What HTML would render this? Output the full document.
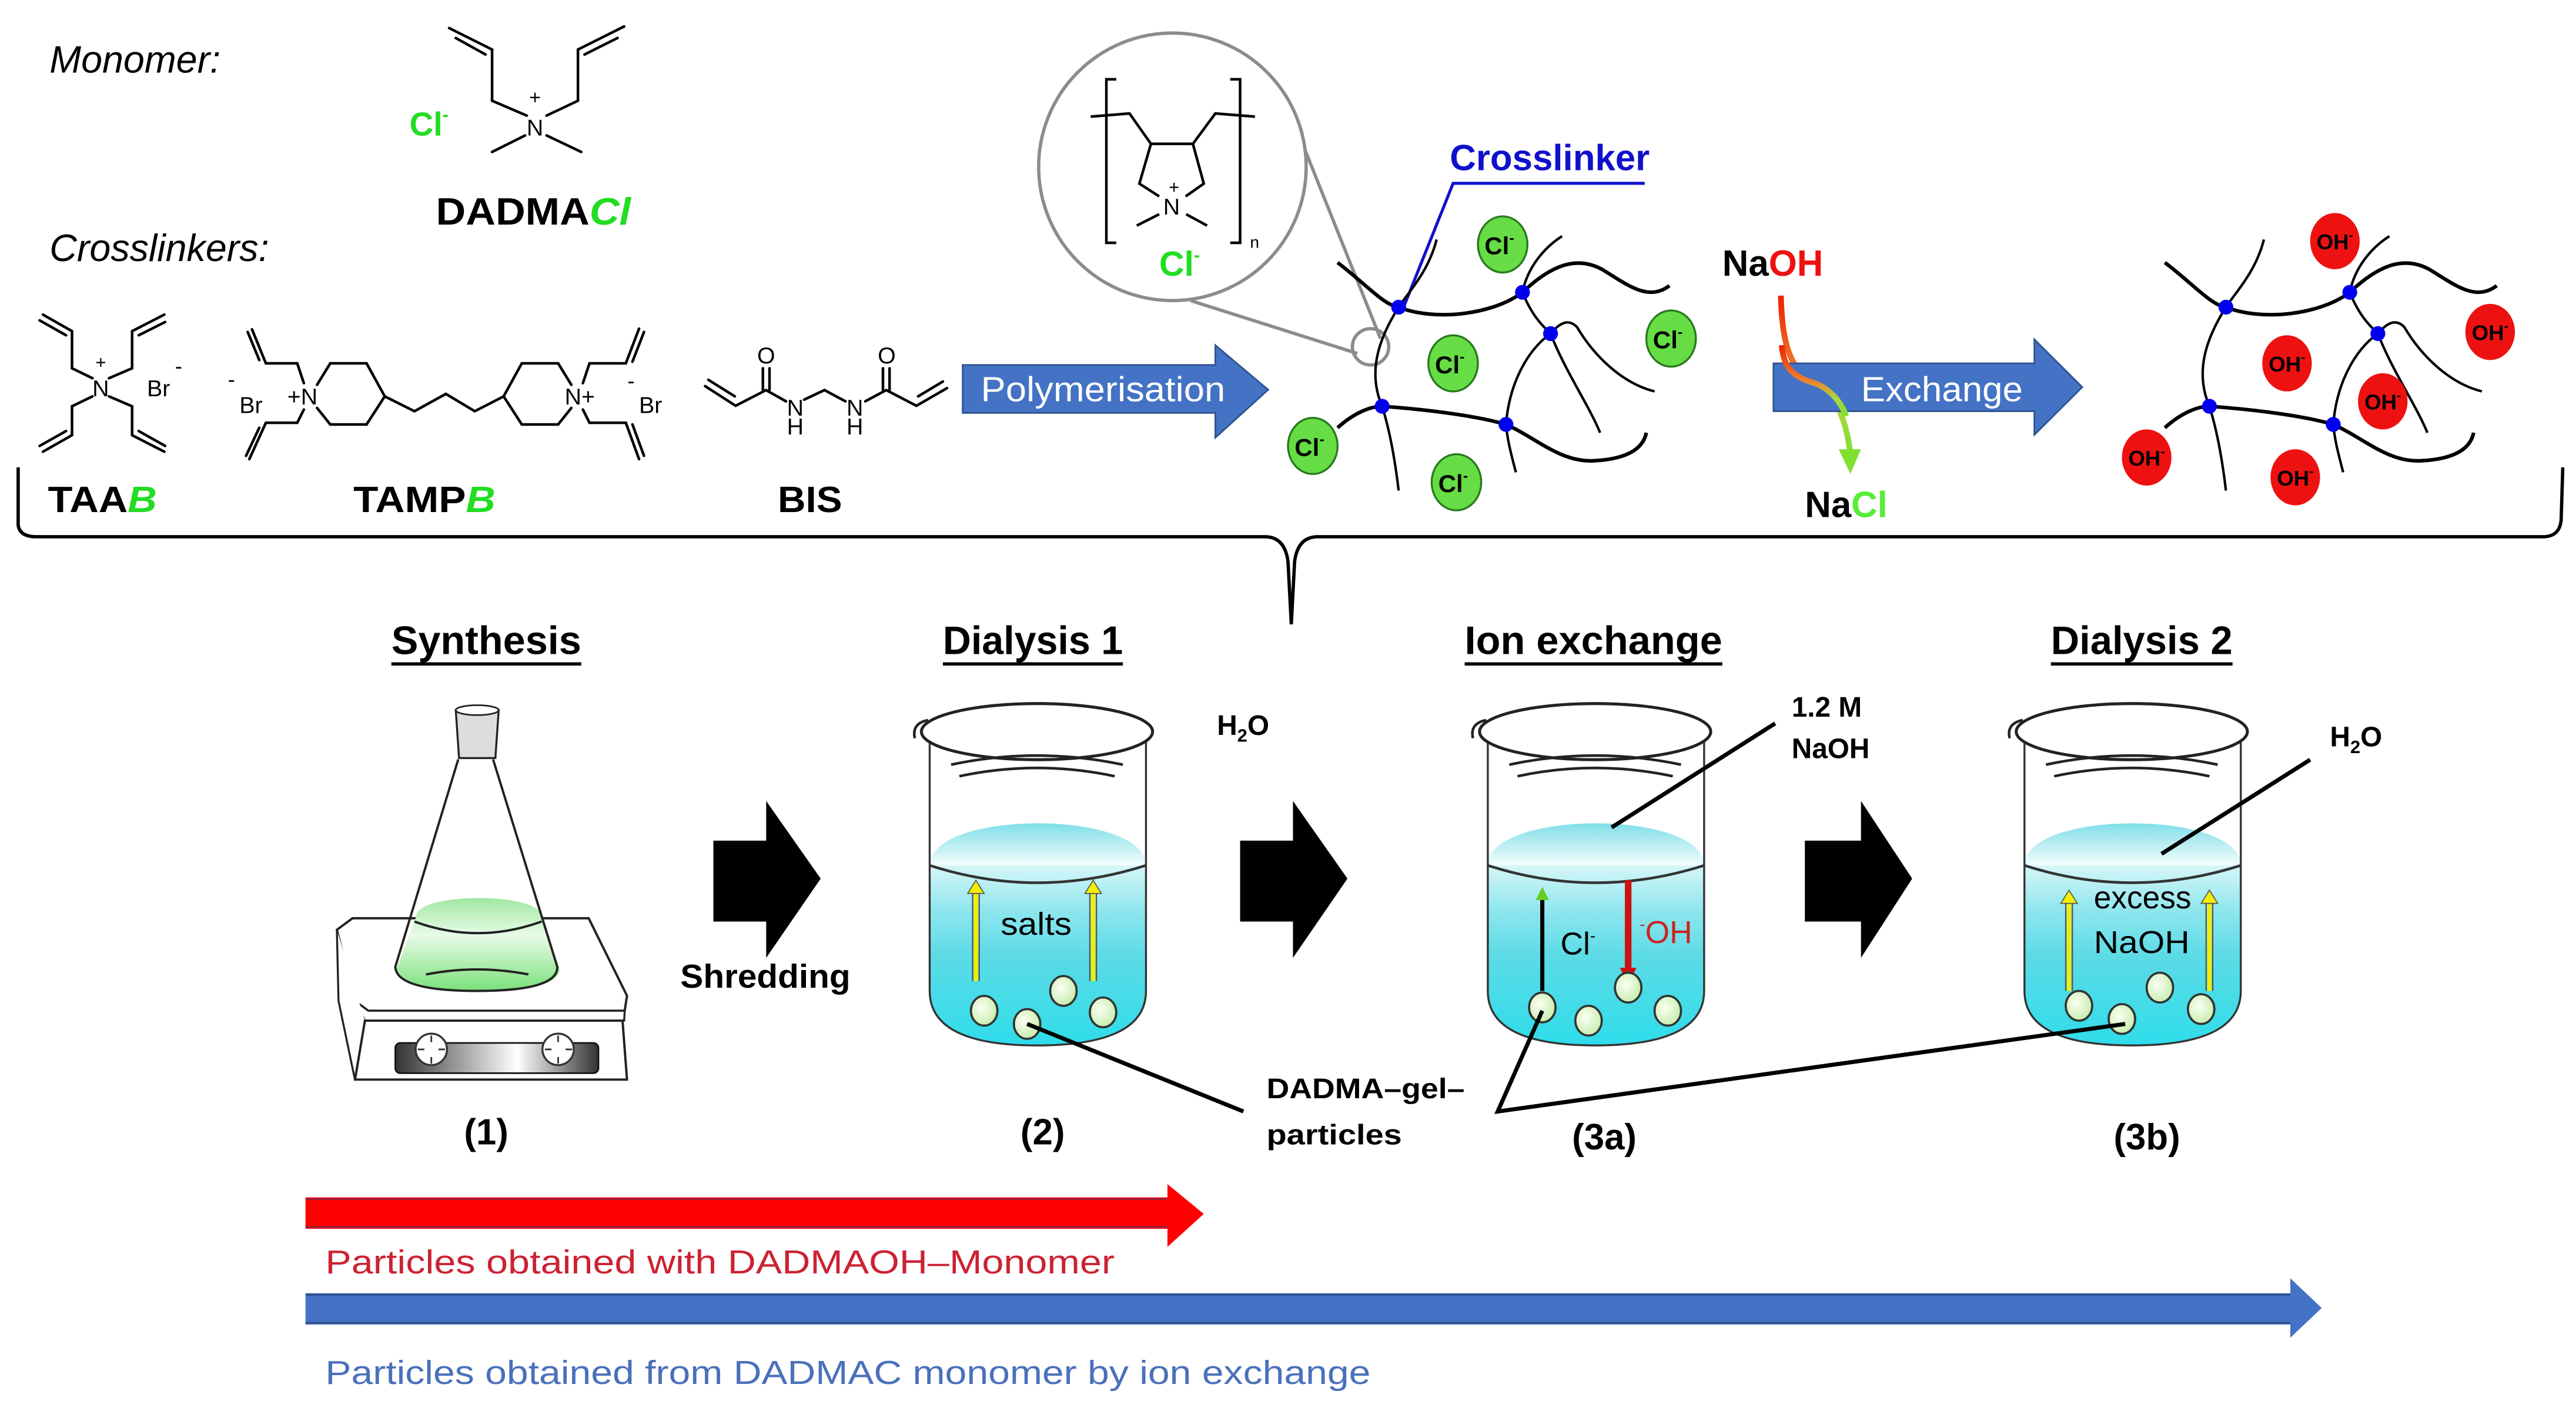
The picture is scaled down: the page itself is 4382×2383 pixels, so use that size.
<!DOCTYPE html>
<html><head><meta charset="utf-8"><style>html,body{margin:0;padding:0;background:#fff}svg{display:block}</style></head>
<body>
<svg width="4382" height="2383" viewBox="0 0 1560 848.3" preserveAspectRatio="none" xmlns="http://www.w3.org/2000/svg" font-family="Liberation Sans, sans-serif">
<defs>
<linearGradient id="water" x1="0" y1="0" x2="0" y2="1">
<stop offset="0" stop-color="#d6f6f8"/><stop offset="0.25" stop-color="#8fe6ee"/><stop offset="0.5" stop-color="#5cdbe6"/><stop offset="1" stop-color="#2fdcea"/>
</linearGradient>
<linearGradient id="dome" x1="0" y1="0" x2="0" y2="1">
<stop offset="0" stop-color="#7fdfe8"/><stop offset="1" stop-color="#f4fdfd"/>
</linearGradient>
<linearGradient id="green" x1="0" y1="0" x2="0" y2="1">
<stop offset="0" stop-color="#9fe89f"/><stop offset="0.4" stop-color="#e8fbe8"/><stop offset="1" stop-color="#7be07b"/>
</linearGradient>
<linearGradient id="bar" x1="0" y1="0" x2="1" y2="0">
<stop offset="0" stop-color="#333"/><stop offset="0.6" stop-color="#fff"/><stop offset="1" stop-color="#333"/>
</linearGradient>
<linearGradient id="na" x1="0" y1="0" x2="0" y2="1">
<stop offset="0" stop-color="#ee2200"/><stop offset="0.5" stop-color="#f08030"/><stop offset="0.75" stop-color="#a8d840"/><stop offset="1" stop-color="#80e030"/>
</linearGradient>
<radialGradient id="part" cx="0.4" cy="0.4" r="0.6"><stop offset="0" stop-color="#fbfff3"/><stop offset="1" stop-color="#c8eeb0"/></radialGradient>
<g id="beaker">
<path d="M-63,524 C-63,490 68,490 68,524 Z" fill="url(#dome)"/>
<path d="M-63,524 L-63,600 Q-63,633 2,633 Q68,633 68,600 L68,524 Z" fill="url(#water)"/>
<path d="M-63,524 Q2,545 68,524" fill="none" stroke="#333" stroke-width="1.6"/>
<path d="M-63,447 L-63,600 Q-63,633 2,633 Q68,633 68,600 L68,447" fill="none" stroke="#333" stroke-width="1.2"/>
<ellipse cx="2" cy="443" rx="70" ry="17" fill="#fff" stroke="#222" stroke-width="1.8"/>
<path d="M-72,447 Q-74,438 -64,436" fill="none" stroke="#222" stroke-width="1.6"/>
<path d="M-50,463 Q2,452 54,463" fill="none" stroke="#222" stroke-width="1.6"/>
<path d="M-45,470 Q2,460 49,470" fill="none" stroke="#222" stroke-width="1.6"/>
</g>
<g id="net">
<g fill="none" stroke="#000" stroke-width="2.2">
<path d="M810,159 C825,170 838,185 847,186 C870,195 905,190 922,177 C940,160 955,155 970,163 C985,172 998,183 1011,173"/>
<path d="M810,259 C820,250 830,246 837,246 C865,248 895,252 912,257 C930,265 945,280 965,279 C985,278 995,272 997,262"/>
</g>
<g fill="none" stroke="#000" stroke-width="1.5">
<path d="M870,145 C865,165 852,178 847,186 C835,205 828,225 837,246 C842,262 845,280 847,297"/>
<path d="M946,143 C935,150 925,162 922,177 C928,192 935,198 939,202"/>
<path d="M939,202 C925,212 914,232 912,257 C913,268 916,278 918,286"/>
<path d="M939,202 C945,195 950,193 955,198 C965,215 982,232 1002,237"/>
<path d="M939,202 C948,225 962,245 969,262"/>
</g>
<g fill="#0000ee"><circle cx="847" cy="186" r="4.5"/><circle cx="922" cy="177" r="4.5"/><circle cx="939" cy="202" r="4.5"/><circle cx="837" cy="246" r="4.5"/><circle cx="912" cy="257" r="4.5"/></g>
</g>
</defs>

<!-- Top texts -->
<text x="30" y="44" font-size="23" font-style="italic">Monomer:</text>
<text x="30" y="158" font-size="23" font-style="italic">Crosslinkers:</text>

<g fill="none" stroke="#000" stroke-width="1.6" stroke-linecap="round">
<!-- DADMA -->
<path d="M319,70 L298,61 L298,30 L272,17 M294,33 L276,23"/>
<path d="M331,70 L350,61 L350,30 L378,16 M354,33 L374,23"/>
<path d="M318,82 L298,92 M331,82 L352,92"/>
<!-- TAAB -->
<path d="M56,229 L43.6,223 L43.6,200.5 L26,190.5 M40,203 L24,194"/>
<path d="M66,229 L80,223 L80,200.5 L99.5,190.5 M84,203 L100,195"/>
<path d="M56,240 L43.6,246 L43.6,263.5 L26,273.5 M40,261 L24,270"/>
<path d="M66,240 L80,246 L80,263.5 L99.5,273.5 M84,261 L100,270"/>
<!-- TAMPB -->
<path d="M192,233 L200,220 L222,220 L233,240 L222,257 L200,257 L192,247"/>
<path d="M233,240 L251,249 L270,238.5 L287.5,249 L305,240"/>
<path d="M305,240 L316,220 L338,220 L346,233 M346,247 L338,257 L316,257 L305,240"/>
<path d="M184,232 L180,220 L161,220 L152.6,199.4 M157,218 L150,201"/>
<path d="M184,248 L180,256 L161,256 L151,278 M157,259 L149,276"/>
<path d="M353,232 L357,220 L379,220 L387,199 M383,219 L390,201"/>
<path d="M353,248 L357,256 L379,256 L387,278 M383,257 L390,276"/>
<!-- BIS -->
<path d="M427,233.8 L445.5,245.7 L463.9,236.2 L476,243 M429,230 L445,240"/>
<path d="M462,236 L462,223 M466,236 L466,223"/>
<path d="M487,242 L499.3,236.2 L512,243"/>
<path d="M524,243 L536.7,236.2 L555,245.7 L573.5,235 M556,240 L571,231"/>
<path d="M534.7,236 L534.7,223 M538.7,236 L538.7,223"/>
</g>
<g font-size="14">
<text x="324" y="82" text-anchor="middle">N</text><text x="324" y="63" text-anchor="middle" font-size="12">+</text>
<text x="248" y="82" fill="#22dd22" font-size="20" font-weight="bold">Cl<tspan font-size="11" dy="-9">-</tspan></text>
<text x="61" y="240" text-anchor="middle">N</text><text x="61" y="223" text-anchor="middle" font-size="11">+</text>
<text x="89" y="240">Br</text><text x="106" y="226" font-size="13">-</text>
<text x="174" y="245">+N</text><text x="342" y="245">N+</text>
<text x="145" y="250">Br</text><text x="138" y="234" font-size="13">-</text>
<text x="387" y="250">Br</text><text x="380" y="235" font-size="13">-</text>
<text x="464" y="220" text-anchor="middle">O</text><text x="537" y="220" text-anchor="middle">O</text>
<text x="481.6" y="251.6" text-anchor="middle">N</text><text x="481.6" y="263" text-anchor="middle">H</text>
<text x="517.7" y="251.6" text-anchor="middle">N</text><text x="517.7" y="263" text-anchor="middle">H</text>
</g>
<text x="264" y="136" font-size="23" font-weight="bold" textLength="118" lengthAdjust="spacingAndGlyphs">DADMA<tspan fill="#22dd22" font-style="italic">Cl</tspan></text>
<text x="29" y="310" font-size="22" font-weight="bold" textLength="66" lengthAdjust="spacingAndGlyphs">TAA<tspan fill="#22dd22" font-style="italic">B</tspan></text>
<text x="214" y="310" font-size="22" font-weight="bold" textLength="86" lengthAdjust="spacingAndGlyphs">TAMP<tspan fill="#22dd22" font-style="italic">B</tspan></text>
<text x="471" y="310" font-size="22" font-weight="bold" textLength="39" lengthAdjust="spacingAndGlyphs">BIS</text>

<!-- Polymerisation arrow -->
<path d="M583,221 L736,221 L736,209 L768,236 L736,265 L736,250 L583,250 Z" fill="#4472c4" stroke="#2f528f" stroke-width="1"/>
<text x="594" y="243" font-size="21" fill="#fff" textLength="148" lengthAdjust="spacingAndGlyphs">Polymerisation</text>

<!-- zoom circle -->
<g fill="none" stroke="#8c8c8c" stroke-width="2">
<ellipse cx="710" cy="101" rx="81" ry="81"/>
<path d="M790,90 L836,205 M721,182 L822,214"/>
<circle cx="830" cy="210" r="11"/>
</g>
<g fill="none" stroke="#000" stroke-width="1.6">
<path d="M676,48 L670,48 L670,147 L676,147 M745,48 L751,48 L751,147 L745,147"/>
<path d="M660.5,70.6 L684,68.7 L697,87.1 L722.4,87.1 L736,68.7 L760,70.6"/>
<path d="M697,87.1 L690,111.2 L702,118.9 M722.4,87.1 L729,111.2 L718,118.9"/>
<path d="M702,129.7 L688.4,136.6 M718.3,129.7 L731,136.6"/>
</g>
<text x="709.5" y="130" font-size="14" text-anchor="middle">N</text>
<text x="711" y="117" font-size="11" text-anchor="middle">+</text>
<text x="757" y="150" font-size="10">n</text>
<text x="702" y="167" font-size="21" font-weight="bold" fill="#22dd22">Cl<tspan font-size="11" dy="-9">-</tspan></text>

<!-- crosslinker label -->
<text x="878" y="103" font-size="22" font-weight="bold" fill="#1010cc">Crosslinker</text>
<path d="M996,111 L880,111 L850,186" fill="none" stroke="#1010cc" stroke-width="1.8"/>

<use href="#net"/>
<g font-size="15" font-weight="bold" text-anchor="middle">
<g fill="#66dd44" stroke="#2a7a20" stroke-width="1.2">
<ellipse cx="910" cy="148" rx="15" ry="17"/><ellipse cx="880" cy="220" rx="15" ry="17"/><ellipse cx="1012" cy="205" rx="15" ry="17"/><ellipse cx="795" cy="270" rx="15" ry="17"/><ellipse cx="882" cy="292" rx="15" ry="17"/>
</g>
<text x="908" y="154">Cl<tspan font-size="9" dy="-7">-</tspan></text>
<text x="878" y="226">Cl<tspan font-size="9" dy="-7">-</tspan></text>
<text x="1010" y="211">Cl<tspan font-size="9" dy="-7">-</tspan></text>
<text x="793" y="276">Cl<tspan font-size="9" dy="-7">-</tspan></text>
<text x="880" y="298">Cl<tspan font-size="9" dy="-7">-</tspan></text>
</g>

<!-- exchange -->
<text x="1043" y="167" font-size="22" font-weight="bold">Na<tspan fill="#ee1111">OH</tspan></text>
<path d="M1078.5,179 C1079,205 1083,224 1099,232 C1112,238 1118,255 1120.5,274" fill="none" stroke="url(#na)" stroke-width="3.5"/>
<path d="M1113.5,272 L1127,272 L1120.6,287 Z" fill="#80e030"/>
<text x="1093" y="313" font-size="22" font-weight="bold">Na<tspan fill="#55ee33">Cl</tspan></text>
<path d="M1074,220 L1232,220 L1232,205.5 L1261,234.4 L1232,263.3 L1232,249 L1074,249 Z" fill="#4472c4" stroke="#2f528f" stroke-width="1"/>
<path d="M1079,209 C1080,222 1085,228 1099,232 C1110,236 1116,246 1118,252" fill="none" stroke="url(#na)" stroke-width="3.5"/>
<text x="1127" y="243" font-size="21" fill="#fff" textLength="98" lengthAdjust="spacingAndGlyphs">Exchange</text>

<use href="#net" transform="translate(501,0)"/>
<g font-size="13" font-weight="bold" text-anchor="middle">
<g fill="#ee1111">
<ellipse cx="1414" cy="146" rx="15" ry="17"/><ellipse cx="1508" cy="201" rx="15" ry="17"/><ellipse cx="1385" cy="220" rx="15" ry="17"/><ellipse cx="1443" cy="243" rx="15" ry="17"/><ellipse cx="1300" cy="277" rx="15" ry="17"/><ellipse cx="1390" cy="289" rx="15" ry="17"/>
</g>
<text x="1414" y="151">OH<tspan font-size="8" dy="-6">-</tspan></text>
<text x="1508" y="206">OH<tspan font-size="8" dy="-6">-</tspan></text>
<text x="1385" y="225">OH<tspan font-size="8" dy="-6">-</tspan></text>
<text x="1443" y="248">OH<tspan font-size="8" dy="-6">-</tspan></text>
<text x="1300" y="282">OH<tspan font-size="8" dy="-6">-</tspan></text>
<text x="1390" y="294">OH<tspan font-size="8" dy="-6">-</tspan></text>
</g>

<!-- brace -->
<path d="M11,283 L11,318 Q12,325 22,325 L766,325 Q778,325 780,340 L782,378 L784,340 Q786,325 798,325 L1540,325 Q1550,325 1551,315 L1552,283" fill="none" stroke="#000" stroke-width="2"/>

<!-- headings -->
<g font-size="24" font-weight="bold">
<text x="237" y="396" textLength="115" lengthAdjust="spacingAndGlyphs">Synthesis</text>
<text x="571" y="396" textLength="109" lengthAdjust="spacingAndGlyphs">Dialysis 1</text>
<text x="887" y="396" textLength="156" lengthAdjust="spacingAndGlyphs">Ion exchange</text>
<text x="1242" y="396" textLength="110" lengthAdjust="spacingAndGlyphs">Dialysis 2</text>
</g>
<g stroke="#000" stroke-width="2"><path d="M237,402 H352 M571,402 H680 M887,402 H1043 M1242,402 H1352"/></g>

<!-- hotplate + flask -->
<path d="M204,563 L213.5,556 L356.5,556 L379.7,602.9 L378.3,612 L223,612 L214.9,606 Z" fill="#fff" stroke="#222" stroke-width="1.4"/>
<path d="M214.9,606 L223,612 L378.3,612 L378,618 L221,618 Z" fill="#fff" stroke="#222" stroke-width="1.2"/>
<path d="M204,563 L205,606 L215,654 L221,618" fill="#fff" stroke="#222" stroke-width="1.2"/>
<path d="M221,618 L377,618 L379.7,653.7 L215,653.7 Z" fill="#fff" stroke="#222" stroke-width="1.4"/>
<rect x="239.4" y="631.5" width="123" height="18.3" rx="3" fill="url(#bar)" stroke="#111"/>
<g fill="#fff" stroke="#333" stroke-width="1.2"><circle cx="261.2" cy="635.4" r="9.5"/><circle cx="338" cy="635.4" r="9.5"/></g>
<g stroke="#333" stroke-width="1"><path d="M261.2,627 v4 M261.2,640 v4 M253,635.4 h4 M265.5,635.4 h4 M338,627 v4 M338,640 v4 M330,635.4 h4 M342.5,635.4 h4"/></g>
<path d="M252,555 C252,540 328,540 328,555 L339,587 Q338,600 289,600 Q240,600 240,587 Z" fill="url(#green)"/>
<path d="M277.5,459.8 L239.4,585.4 Q240,600 289,600 Q338,600 337.5,585.4 L298.6,459.8" fill="none" stroke="#222" stroke-width="1.4"/>
<path d="M251,558 Q289,572 328,558" fill="none" stroke="#222" stroke-width="1.4"/>
<path d="M258,590 Q289,584 320,590" fill="none" stroke="#222" stroke-width="1.4"/>
<path d="M276,430 L302,430 L300,459 L278,459 Z" fill="#ddd" stroke="#222" stroke-width="1.2"/>
<ellipse cx="289" cy="430" rx="13" ry="3" fill="#fff" stroke="#222"/>

<!-- block arrows -->
<path d="M432,509 L464,509 L464,485 L497,532 L464,580 L464,558 L432,558 Z" fill="#000"/>
<path d="M751,509 L783,509 L783,485 L816,532 L783,580 L783,558 L751,558 Z" fill="#000"/>
<path d="M1093,509 L1127,509 L1127,485 L1158,532 L1127,580 L1127,558 L1093,558 Z" fill="#000"/>
<text x="412" y="598" font-size="20" font-weight="bold" textLength="103" lengthAdjust="spacingAndGlyphs">Shredding</text>

<!-- beakers -->
<use href="#beaker" transform="translate(626,0)"/>
<use href="#beaker" transform="translate(964,0)"/>
<use href="#beaker" transform="translate(1289,0)"/>

<!-- beaker 1 content -->
<g stroke="#555" stroke-width="0.8"><path d="M589,594 V538 M593,594 V538 M660,594 V538 M664,594 V538"/></g>
<g stroke="#f2ee00" stroke-width="2.5"><path d="M591,594 V540 M662,594 V540"/></g>
<path d="M586,541 L591,533 L596,541 Z M657,541 L662,533 L667,541 Z" fill="#f2ee00" stroke="#555" stroke-width="0.6"/>
<text x="606" y="566" font-size="19" textLength="43" lengthAdjust="spacingAndGlyphs">salts</text>

<!-- beaker 3a content -->
<path d="M934,600 V542" stroke="#000" stroke-width="2.5"/>
<path d="M930,545 L934,537 L938,545 Z" fill="#66cc22"/>
<path d="M986,533 V588" stroke="#cc1111" stroke-width="4"/>
<path d="M981,586 L986,596 L991,586 Z" fill="#cc1111"/>
<text x="945" y="578" font-size="19">Cl<tspan font-size="10" dy="-8">-</tspan></text>
<text x="993" y="571" font-size="19" fill="#cc2222"><tspan font-size="10" dy="-8">-</tspan><tspan dy="8">OH</tspan></text>

<!-- beaker 3b content -->
<g stroke="#555" stroke-width="0.8"><path d="M1251,600 V545 M1255,600 V545 M1336,600 V545 M1340,600 V545"/></g>
<g stroke="#f2ee00" stroke-width="2.5"><path d="M1253,600 V546 M1338,600 V546"/></g>
<path d="M1248,547 L1253,539 L1258,547 Z M1333,547 L1338,539 L1343,547 Z" fill="#f2ee00" stroke="#555" stroke-width="0.6"/>
<text x="1268" y="550" font-size="19" textLength="59" lengthAdjust="spacingAndGlyphs">excess</text>
<text x="1268" y="577" font-size="19" textLength="58" lengthAdjust="spacingAndGlyphs">NaOH</text>

<!-- particles -->
<g fill="url(#part)" stroke="#333" stroke-width="1.3">
<ellipse cx="596" cy="612" rx="8" ry="9"/><ellipse cx="622" cy="620" rx="8" ry="9"/><ellipse cx="644" cy="600" rx="8" ry="9"/><ellipse cx="668" cy="613" rx="8" ry="9"/>
<ellipse cx="934" cy="610" rx="8" ry="9"/><ellipse cx="962" cy="618" rx="8" ry="9"/><ellipse cx="986" cy="598" rx="8" ry="9"/><ellipse cx="1010" cy="612" rx="8" ry="9"/>
<ellipse cx="1259" cy="609" rx="8" ry="9"/><ellipse cx="1285" cy="617" rx="8" ry="9"/><ellipse cx="1308" cy="598" rx="8" ry="9"/><ellipse cx="1333" cy="611" rx="8" ry="9"/>
</g>

<!-- pointers -->
<g stroke="#000" stroke-width="2.5" fill="none">
<path d="M622,620 L753,673"/>
<path d="M934,612 L907,673 L1287,620"/>
<path d="M1075,438 L976,501"/>
<path d="M1399,460 L1309,517"/>
</g>
<g font-weight="bold">
<text x="737" y="445" font-size="17">H<tspan font-size="11" dy="4">2</tspan><tspan dy="-4">O</tspan></text>
<text x="1411" y="452" font-size="17">H<tspan font-size="11" dy="4">2</tspan><tspan dy="-4">O</tspan></text>
<text x="1085" y="434" font-size="17">1.2 M</text>
<text x="1085" y="459" font-size="17">NaOH</text>
<text x="767" y="665" font-size="17" textLength="120" lengthAdjust="spacingAndGlyphs">DADMA–gel–</text>
<text x="767" y="693" font-size="17" textLength="82" lengthAdjust="spacingAndGlyphs">particles</text>
<g font-size="22"><text x="281" y="693">(1)</text><text x="618" y="693">(2)</text><text x="952" y="696">(3a)</text><text x="1280" y="696">(3b)</text></g>
</g>

<!-- bottom arrows -->
<path d="M185,725 L707,725 L707,717 L729,735 L707,755 L707,744 L185,744 Z" fill="#ff0000"/>
<path d="M185,726 H707 M185,743 H707" stroke="#a0203a" stroke-width="1.2"/>
<text x="197" y="771" font-size="20" fill="#cc2233" textLength="478" lengthAdjust="spacingAndGlyphs">Particles obtained with DADMAOH–Monomer</text>
<path d="M185,783 L1387,783 L1387,774 L1406,792 L1387,810 L1387,802 L185,802 Z" fill="#4472c4"/>
<path d="M185,784 H1387 M185,801 H1387" stroke="#2f528f" stroke-width="1.2"/>
<text x="197" y="838" font-size="20" fill="#4a70bb" textLength="633" lengthAdjust="spacingAndGlyphs">Particles obtained from DADMAC monomer by ion exchange</text>
</svg>
</body></html>
